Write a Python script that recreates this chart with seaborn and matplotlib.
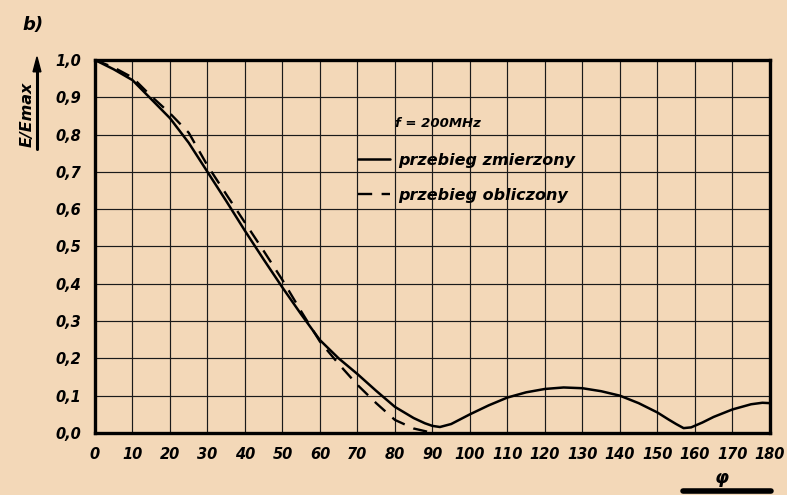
import numpy as np
import pandas as pd
import matplotlib.pyplot as plt
import seaborn as sns

angle_measured = [0, 5, 10, 15, 20, 25, 30, 35, 40, 45, 50, 55, 60, 65, 70, 75,
                  80, 85, 88, 90, 92, 95, 100, 105, 110, 115, 120, 125, 130, 135,
                  140, 145, 150, 153, 155, 157, 159, 162, 165, 170, 175, 178, 180]
e_measured = [1.0, 0.975, 0.946, 0.895, 0.844, 0.778, 0.70, 0.622, 0.542, 0.465,
              0.39, 0.318, 0.249, 0.20, 0.158, 0.113, 0.07, 0.04, 0.026, 0.019,
              0.016, 0.024, 0.05, 0.074, 0.095, 0.109, 0.118, 0.122, 0.12, 0.112,
              0.10, 0.08, 0.055, 0.036, 0.024, 0.013, 0.015, 0.028, 0.043, 0.063,
              0.077, 0.081, 0.08]

# calculated curve (dashed)
angle_calculated = [0, 5, 10, 15, 20, 25, 30, 35, 40, 45, 50, 55, 60, 65, 70,
                    75, 80, 85, 88, 90]
e_calculated = [1.0, 0.98, 0.953, 0.903, 0.857, 0.805, 0.717, 0.64, 0.564, 0.488,
                0.41, 0.326, 0.245, 0.185, 0.129, 0.08, 0.035, 0.012, 0.005, 0.0]

x_ticks = list(range(0, 181, 10))
y_ticks = [0.0, 0.1, 0.2, 0.3, 0.4, 0.5, 0.6, 0.7, 0.8, 0.9, 1.0]
y_tick_labels = ["0,0", "0,1", "0,2", "0,3", "0,4", "0,5", "0,6", "0,7", "0,8", "0,9", "1,0"]

PAPER = "#f3d8b8"

sns.set_style("white")
plt.rcParams["font.family"] = ["DejaVu Sans"]
plt.rcParams["text.color"] = "black"
plt.rcParams["xtick.color"] = "black"
plt.rcParams["ytick.color"] = "black"

fig = plt.figure(figsize=(7.87, 4.95), dpi=100, facecolor=PAPER)
ax = fig.add_axes([0.1207, 0.1253, 0.8575, 0.7535])
ax.set_facecolor(PAPER)

df_m = pd.DataFrame({"phi": angle_measured, "E": e_measured})
df_c = pd.DataFrame({"phi": angle_calculated, "E": e_calculated})

sns.lineplot(data=df_m, x="phi", y="E", ax=ax, color="black", lw=1.8,
             label="przebieg zmierzony")
sns.lineplot(data=df_c, x="phi", y="E", ax=ax, color="black", lw=1.7,
             label="przebieg obliczony")
ax.lines[1].set_dashes([6, 4])

ax.set_xlim(0, 180)
ax.set_ylim(0, 1.0)
ax.set_xticks(x_ticks)
ax.set_yticks(y_ticks)
ax.set_yticklabels(y_tick_labels)
ax.grid(True, color="#1a1a1a", lw=0.85)
ax.set_axisbelow(True)
ax.tick_params(length=0, pad=10, colors="black")
for lab in ax.get_xticklabels() + ax.get_yticklabels():
    lab.set_fontsize(10.5)
    lab.set_fontweight("bold")
    lab.set_fontstyle("italic")
for sp in ax.spines.values():
    sp.set_visible(True)
    sp.set_color("black")
    sp.set_linewidth(2.4)
ax.set_xlabel("")
ax.set_ylabel("")

leg = ax.legend(loc="upper left", bbox_to_anchor=(0.369, 0.79), frameon=False,
                handlelength=2.0, handletextpad=0.5, labelspacing=1.25,
                prop={"size": 11.5, "style": "italic", "weight": "bold"})
for t in leg.get_texts():
    t.set_color("black")
ax.text(0.445, 0.83, "f = 200MHz", transform=ax.transAxes, fontsize=9.5,
        fontstyle="italic", fontweight="bold", ha="left", va="center")

# axis captions
fig.text(0.028, 0.95, "b)", fontsize=13, fontstyle="italic", fontweight="bold",
         ha="left", va="center")
fig.text(0.034, 0.77, "E/Emax", rotation=90, fontsize=11.5, fontstyle="italic",
         fontweight="bold", ha="center", va="center")
fig.add_artist(plt.Line2D([0.047, 0.047], [0.70, 0.86], color="black", lw=2.2,
                          transform=fig.transFigure))
fig.add_artist(plt.Polygon([[0.042, 0.855], [0.052, 0.855], [0.047, 0.885]],
                           closed=True, color="black", transform=fig.transFigure))
fig.text(0.917, 0.035, "φ", fontsize=13, fontstyle="italic", fontweight="bold",
         ha="center", va="center")
fig.add_artist(plt.Line2D([0.868, 0.98], [0.008, 0.008], color="black", lw=4,
                          transform=fig.transFigure))

fig.savefig("out.png", dpi=100, facecolor=PAPER)
